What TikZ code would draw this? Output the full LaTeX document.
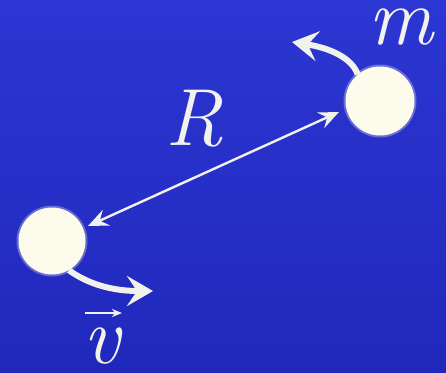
\documentclass[tikz,border=0pt]{standalone}
\usetikzlibrary{arrows.meta}
\definecolor{bgtop}{RGB}{44,54,210}
\definecolor{bgbot}{RGB}{32,40,188}
\definecolor{ball}{RGB}{253,251,236}
\definecolor{ink}{RGB}{242,242,236}
\tikzset{
  ballshape/.style={circle, fill=ball, draw=none, inner sep=0pt, minimum size=#1},
  glow/.style={circle, fill=ball, draw=none, inner sep=0pt, minimum size=#1, opacity=0.3},
  lab/.style={inner sep=0pt, text=ink, font=\fontsize{81}{86}\selectfont\itshape},
  thin arrow/.style={draw=ink, line width=2.4pt, {Stealth[length=20pt,width=17pt,inset=7pt]}-{Stealth[length=20pt,width=17pt,inset=7pt]}},
  motion/.style={draw=ink, line width=6pt, -{Stealth[length=26pt,width=30pt,inset=10pt]}},
  vecbar/.style={draw=ink, line width=2pt, -{Stealth[length=10pt,width=8pt,inset=3pt]}}
}
\begin{document}
\begin{tikzpicture}[x=1pt,y=-1pt]
\shade[top color=bgtop, bottom color=bgbot] (0,0) rectangle (446,372);
\useasboundingbox (0,0) rectangle (446,372);
% glows
\node[glow=73pt] at (380,101) {};
\node[glow=71pt] at (52,241) {};
% balls
\node[ballshape=69pt] (m1) at (380,101) {};
\node[ballshape=67pt] (m2) at (52,241) {};
% labels
\node[lab] (mlab) at (401,27) {m};
\node[lab] (Rlab) at (194,119) {R};
\node[lab] (vlab) at (102,346) {v};
% R arrow
\coordinate (ra) at (88,226);
\coordinate (rb) at (339,112);
\draw[thin arrow] (ra) -- (rb);
% motion arrows
\coordinate (mt) at (292,42);
\draw[motion] (m1.130) .. controls (352,58) and (330,48) .. (mt);
\coordinate (vt) at (153,291);
\draw[motion] (m2.-60) .. controls (88,284) and (112,291) .. (vt);
% vector bar over v
\coordinate (vb1) at (85,313);
\coordinate (vb2) at (122,313);
\draw[vecbar] (vb1) -- (vb2);
\end{tikzpicture}
\end{document}
